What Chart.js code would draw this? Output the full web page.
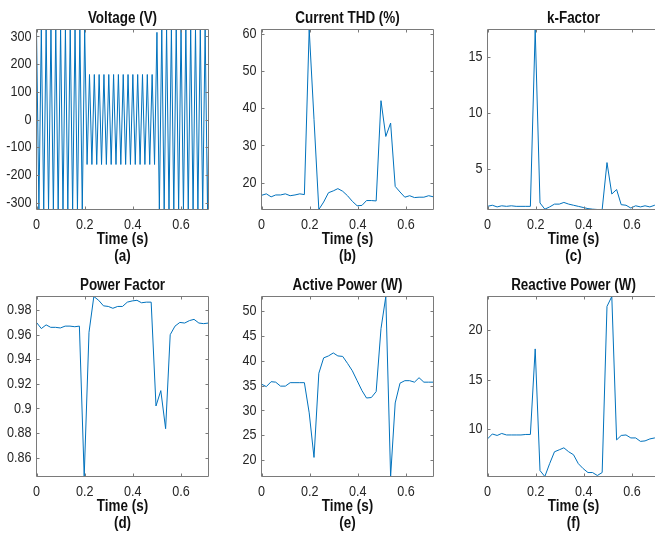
<!DOCTYPE html>
<html>
<head>
<meta charset="utf-8">
<script src="https://cdn.jsdelivr.net/npm/chart.js@4.4.1/dist/chart.umd.min.js"></script>
<style>
  html, body { margin: 0; padding: 0; background: #ffffff; overflow: hidden; width: 655px; height: 536px; }
  .panel { position: absolute; width: 245px; height: 270px; }
</style>
</head>
<body>
<script>
// ---------------- DATA ----------------
const xTicks = [0, 0.2, 0.4, 0.6];
const xMax = 0.714;

// sample times of the per-cycle quantities (s)
const frameTimes = [0, 0.020, 0.040, 0.059, 0.079, 0.099, 0.119, 0.139, 0.159, 0.178,
  0.198, 0.218, 0.238, 0.258, 0.278, 0.298, 0.317, 0.337, 0.357, 0.377,
  0.397, 0.417, 0.436, 0.456, 0.476, 0.496, 0.516, 0.536, 0.555, 0.575,
  0.595, 0.615, 0.635, 0.654, 0.674, 0.694, 0.714];

// voltage waveform turning points (s, V)
const voltTimes = [0, 0.01, 0.02, 0.03, 0.04, 0.05, 0.06, 0.07, 0.08, 0.09,
  0.10, 0.11, 0.12, 0.13, 0.14, 0.15, 0.16, 0.17, 0.18, 0.19,
  0.20, 0.21, 0.22, 0.23, 0.24, 0.25, 0.26, 0.27, 0.28, 0.29,
  0.30, 0.31, 0.32, 0.33, 0.34, 0.35, 0.36, 0.37, 0.38, 0.39,
  0.40, 0.41, 0.42, 0.43, 0.44, 0.45, 0.46, 0.47, 0.48, 0.49,
  0.50, 0.51, 0.52, 0.53, 0.54, 0.55, 0.56, 0.57, 0.58, 0.59,
  0.60, 0.61, 0.62, 0.63, 0.64, 0.65, 0.66, 0.67, 0.68, 0.69,
  0.70, 0.71, 0.714];
const voltValues = [325.3, -325.3, 325.3, -325.3, 325.3, -325.3, 325.3, -325.3, 325.3, -325.3,
  325.3, -325.3, 325.3, -325.3, 325.3, -325.3, 325.3, -325.3, 325.3, -325.3,
  325.3, -162.6, 162.6, -162.6, 162.6, -162.6, 162.6, -162.6, 162.6, -162.6,
  162.6, -162.6, 162.6, -162.6, 162.6, -162.6, 162.6, -162.6, 162.6, -162.6,
  162.6, -162.6, 162.6, -162.6, 162.6, -162.6, 162.6, -162.6, 162.6, -162.6,
  315, -325.3, 325.3, -325.3, 325.3, -325.3, 325.3, -325.3, 325.3, -325.3,
  325.3, -325.3, 325.3, -325.3, 325.3, -325.3, 325.3, -325.3, 325.3, -325.3,
  325.3, -325.3, -100];

const thdValues = [16.6, 17.0, 16.2, 16.7, 16.7, 17.0, 16.5, 16.7, 17.0, 16.8,
  61.1, 37.0, 12.8, 14.8, 17.3, 17.8, 18.4, 17.7, 16.5, 15.0,
  13.8, 13.9, 15.2, 15.2, 15.1, 42.0, 32.4, 36.0, 19.0, 17.5,
  16.1, 16.5, 16.0, 16.1, 16.1, 16.5, 16.2];

const kFactorValues = [1.7, 1.8, 1.65, 1.75, 1.7, 1.75, 1.7, 1.7, 1.7, 1.7,
  17.46, 2.0, 1.45, 1.65, 1.9, 1.9, 2.05, 1.9, 1.8, 1.7,
  1.6, 1.5, 1.45, 1.42, 1.42, 5.6, 2.8, 3.2, 1.85, 1.8,
  1.55, 1.75, 1.65, 1.75, 1.65, 1.8, 1.75];

const pfValues = [0.970, 0.965, 0.968, 0.966, 0.966, 0.9655, 0.967, 0.967, 0.9665, 0.967,
  0.8446, 0.962, 0.9911, 0.988, 0.9835, 0.983, 0.9815, 0.983, 0.983, 0.9865,
  0.9875, 0.988, 0.986, 0.9865, 0.9865, 0.902, 0.9145, 0.8835, 0.960, 0.967,
  0.970, 0.9695, 0.9715, 0.9725, 0.9695, 0.969, 0.9695];

const activeValues = [35.3, 34.8, 35.8, 35.7, 34.9, 34.9, 35.6, 35.6, 35.6, 35.6,
  29.5, 20.5, 37.5, 40.6, 41.0, 41.6, 41.0, 40.9, 39.5, 38.0,
  36.0, 34.0, 32.5, 32.6, 33.8, 46.5, 53.0, 16.65, 31.5, 35.5,
  36.0, 36.0, 35.7, 36.6, 35.7, 35.7, 35.7];

const reactiveValues = [9.0, 9.5, 9.35, 9.55, 9.4, 9.4, 9.4, 9.4, 9.45, 9.45,
  18.1, 5.8, 5.2, 6.5, 7.7, 7.9, 8.1, 7.7, 7.4, 6.5,
  6.0, 5.6, 5.6, 5.3, 5.6, 22.4, 23.4, 8.9, 9.35, 9.4,
  9.1, 9.1, 8.75, 8.8, 9.0, 9.1, 9.15];

const yTicksA = [-300, -200, -100, 0, 100, 200, 300];
const yTicksB = [20, 30, 40, 50, 60];
const yTicksC = [5, 10, 15];
const yTicksD = [0.86, 0.88, 0.9, 0.92, 0.94, 0.96, 0.98];
const yTicksE = [20, 25, 30, 35, 40, 45, 50];
const yTicksF = [10, 15, 20];

const titles = ['Voltage (V)', 'Current THD (%)', 'k-Factor', 'Power Factor', 'Active Power (W)', 'Reactive Power (W)'];
const subLabels = ['(a)', '(b)', '(c)', '(d)', '(e)', '(f)'];
const xLabel = 'Time (s)';

// ---------------- STYLE ----------------
const FONT = "'Liberation Sans Narrow', 'Liberation Sans', Arial, sans-serif";
const LINE_COLOR = '#0072BD';
const BOX_COLOR = '#7a7a7a';
const TEXT_COLOR = '#262626';
const TITLE_COLOR = '#111111';
const TEXT_CONDENSE = 0.84;   // narrow (condensed) lettering like the reference

// draw all text slightly condensed horizontally, keeping its anchor point
(function () {
  const proto = CanvasRenderingContext2D.prototype;
  const origFill = proto.fillText;
  proto.fillText = function (text, x, y, maxWidth) {
    this.save();
    this.translate(x, y);
    this.scale(TEXT_CONDENSE, 1);
    if (maxWidth !== undefined) origFill.call(this, text, 0, 0, maxWidth / TEXT_CONDENSE);
    else origFill.call(this, text, 0, 0);
    this.restore();
  };
})();

function fmt(v) { return String(Number(Number(v).toFixed(4))); }

function boxPlugin(title) {
  return {
    id: 'matlabBox',
    afterDatasetsDraw(chart) {
      const ctx = chart.ctx;
      const a = chart.chartArea;
      const xs = chart.scales.x, ys = chart.scales.y;
      ctx.save();
      ctx.strokeStyle = BOX_COLOR;
      ctx.lineWidth = 1;
      ctx.beginPath();
      ctx.rect(a.left, a.top, a.right - a.left, a.bottom - a.top);
      ctx.stroke();
      const tl = 3;
      ctx.beginPath();
      xs.ticks.forEach(t => {
        const p = Math.round(xs.getPixelForValue(t.value)) + 0.5;
        ctx.moveTo(p, a.bottom); ctx.lineTo(p, a.bottom - tl);
        ctx.moveTo(p, a.top); ctx.lineTo(p, a.top + tl);
      });
      ys.ticks.forEach(t => {
        const p = Math.round(ys.getPixelForValue(t.value)) + 0.5;
        ctx.moveTo(a.left, p); ctx.lineTo(a.left + tl, p);
        ctx.moveTo(a.right, p); ctx.lineTo(a.right - tl, p);
      });
      ctx.stroke();
      ctx.fillStyle = TITLE_COLOR;
      ctx.font = 'bold 16px ' + FONT;
      ctx.textAlign = 'center';
      ctx.textBaseline = 'middle';
      ctx.fillText(title, (a.left + a.right) / 2, a.top - 11);
      ctx.restore();
    }
  };
}

function makePanel(left, top, xs, ys, yTicks, title, sub) {
  const div = document.createElement('div');
  div.className = 'panel';
  div.style.left = left + 'px';
  div.style.top = top + 'px';
  const canvas = document.createElement('canvas');
  canvas.width = 245; canvas.height = 270;
  canvas.style.width = '245px'; canvas.style.height = '270px';
  div.appendChild(canvas);
  document.body.appendChild(div);
  const yMin = Math.min(...ys), yMax = Math.max(...ys);
  new Chart(canvas, {
    type: 'line',
    data: {
      datasets: [{
        data: xs.map((x, i) => ({ x: x, y: ys[i] })),
        borderColor: LINE_COLOR,
        borderWidth: 1,
        pointRadius: 0,
        tension: 0,
        fill: false
      }]
    },
    options: {
      responsive: false,
      animation: false,
      devicePixelRatio: 1,
      layout: { padding: { left: 0, right: 36.5, top: 29.5, bottom: 0 } },
      plugins: { legend: { display: false }, tooltip: { enabled: false }, title: { display: false } },
      scales: {
        x: {
          type: 'linear', min: 0, max: xMax,
          afterBuildTicks: s => { s.ticks = xTicks.map(v => ({ value: v })); },
          afterFit: s => { s.height = 60.5; },
          grid: { display: false, drawTicks: false },
          border: { display: false },
          ticks: { padding: 6, autoSkip: false, maxRotation: 0, color: TEXT_COLOR,
                   font: { family: FONT, size: 15, lineHeight: 1.2 }, callback: v => fmt(v) },
          title: { display: true, text: [xLabel, sub], color: TITLE_COLOR,
                   font: { family: FONT, size: 16, weight: 'bold', lineHeight: 17 / 16 },
                   padding: { top: 0, bottom: 5 } }
        },
        y: {
          type: 'linear', min: yMin, max: yMax,
          afterBuildTicks: s => { s.ticks = yTicks.map(v => ({ value: v })); },
          afterFit: s => { s.width = 36.5; },
          grid: { display: false, drawTicks: false },
          border: { display: false },
          ticks: { padding: 5, autoSkip: false, color: TEXT_COLOR,
                   font: { family: FONT, size: 15, lineHeight: 1.2 }, callback: v => fmt(v) }
        }
      }
    },
    plugins: [boxPlugin(title)]
  });
}

makePanel(0, 0, voltTimes, voltValues, yTicksA, titles[0], subLabels[0]);
makePanel(225, 0, frameTimes, thdValues, yTicksB, titles[1], subLabels[1]);
makePanel(451, 0, frameTimes, kFactorValues, yTicksC, titles[2], subLabels[2]);
makePanel(0, 267, frameTimes, pfValues, yTicksD, titles[3], subLabels[3]);
makePanel(225, 267, frameTimes, activeValues, yTicksE, titles[4], subLabels[4]);
makePanel(451, 267, frameTimes, reactiveValues, yTicksF, titles[5], subLabels[5]);
</script>
</body>
</html>
